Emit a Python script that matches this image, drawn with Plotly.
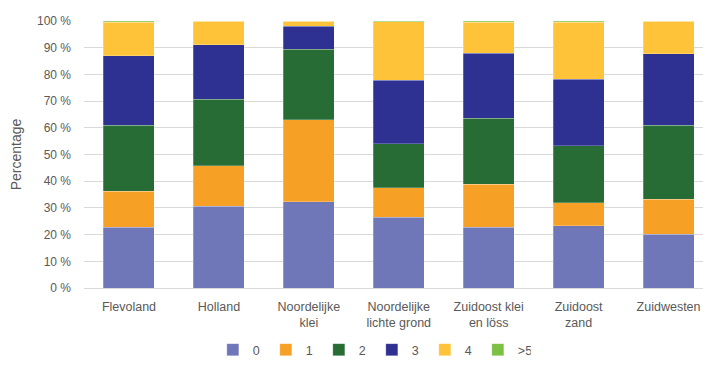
import plotly.graph_objects as go

categories = ["Flevoland", "Holland", "Noordelijke<br>klei", "Noordelijke<br>lichte grond",
              "Zuidoost klei<br>en löss", "Zuidoost<br>zand", "Zuidwesten"]
series_names = ["0", "1", "2", "3", "4", ">5"]
s0 = [22.8, 30.6, 32.3, 26.5, 22.7, 23.3, 20.2]
s1 = [13.5, 15.1, 30.8, 11.0, 16.2, 8.6, 13.0]
s2 = [24.6, 25.0, 26.3, 16.5, 24.6, 21.3, 27.7]
s3 = [26.0, 20.4, 8.6, 23.8, 24.5, 24.9, 26.8]
s4 = [12.6, 8.9, 2.0, 22.0, 11.6, 21.4, 12.2]
s5 = [0.5, 0.0, 0.0, 0.2, 0.4, 0.5, 0.1]
series_values = [s0, s1, s2, s3, s4, s5]
colors = ["#7077B8", "#F7A026", "#276B35", "#2E3192", "#FFC33A", "#7DC142"]

TXT = "#595959"
FONT = "Liberation Sans, Arial, sans-serif"

fig = go.Figure()
for name, vals, col in zip(series_names, series_values, colors):
    fig.add_trace(go.Bar(
        x=categories, y=vals, name=name,
        marker=dict(color=col, line=dict(color="rgba(255,255,255,0.35)", width=0.7)),
        width=0.567,
    ))

fig.update_layout(
    barmode="stack",
    width=703, height=365,
    margin=dict(l=84, r=0, t=21, b=74),
    plot_bgcolor="white", paper_bgcolor="white",
    font=dict(family=FONT, color=TXT, size=12),
    legend=dict(orientation="h", x=0.465, xanchor="center", y=-0.233, yanchor="middle",
                font=dict(size=12.5, color=TXT), itemwidth=30, traceorder="normal",
                entrywidth=8, entrywidthmode="pixels",
                bgcolor="rgba(0,0,0,0)"),
    xaxis=dict(range=[-0.5, 6.383], showgrid=False, showline=False, ticks="",
               tickfont=dict(size=12.5, color=TXT), ticklabelstandoff=9),
    yaxis=dict(range=[0, 100], dtick=10, ticksuffix=" %", showgrid=True,
               gridcolor="#D9D9D9", gridwidth=1, zeroline=True, zerolinecolor="#D9D9D9",
               zerolinewidth=1, showline=False, ticks="",
               tickfont=dict(size=12, color=TXT), ticklabelstandoff=12,
               title=dict(text="Percentage", font=dict(size=14, color=TXT), standoff=12)),
)

fig.write_html("out.html")
